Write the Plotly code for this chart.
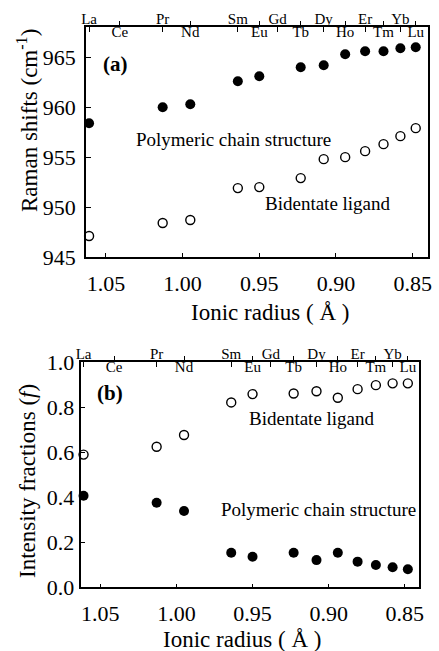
import plotly.graph_objects as go

# ---------------- data ----------------
elements = ["La", "Pr", "Nd", "Sm", "Eu", "Tb", "Dy", "Ho", "Er", "Tm", "Yb", "Lu"]
ionic_radius = [1.061, 1.013, 0.995, 0.964, 0.950, 0.923, 0.908, 0.894, 0.881, 0.869, 0.858, 0.848]

raman_polymeric = [958.4, 960.0, 960.3, 962.6, 963.1, 964.0, 964.2, 965.3, 965.6, 965.6, 965.9, 966.0]
raman_bidentate = [947.1, 948.4, 948.7, 951.9, 952.0, 952.9, 954.8, 955.0, 955.6, 956.3, 957.1, 957.9]

frac_bidentate = [0.59, 0.625, 0.677, 0.822, 0.859, 0.862, 0.872, 0.843, 0.881, 0.899, 0.907, 0.907]
frac_polymeric = [0.407, 0.376, 0.339, 0.154, 0.136, 0.154, 0.121, 0.154, 0.114, 0.099, 0.089, 0.080]

# top element scale (two staggered rows)
upper_labels = ["La", "Pr", "Sm", "Gd", "Dy", "Er", "Yb"]
upper_radius = [1.061, 1.013, 0.964, 0.938, 0.908, 0.881, 0.858]
lower_labels = ["Ce", "Nd", "Eu", "Tb", "Ho", "Tm", "Lu"]
lower_radius = [1.041, 0.995, 0.950, 0.923, 0.894, 0.869, 0.848]

x_ticks = [1.05, 1.00, 0.95, 0.90, 0.85]
x_ticktext = ["1.05", "1.00", "0.95", "0.90", "0.85"]
raman_ticks = [945, 950, 955, 960, 965]
frac_ticks = [0.0, 0.2, 0.4, 0.6, 0.8, 1.0]

W, H = 439, 651
FONT = "Liberation Serif"


def px(x):
    return x / W


def py(y):
    return 1 - y / H


fig = go.Figure()

filled = dict(symbol="circle", size=10, color="black", line=dict(width=0))
opened = dict(symbol="circle", size=9, color="white", line=dict(width=1.4, color="black"))

# panel (a)
fig.add_trace(go.Scatter(x=ionic_radius, y=raman_polymeric, mode="markers", marker=filled,
                         xaxis="x", yaxis="y", cliponaxis=False, showlegend=False))
fig.add_trace(go.Scatter(x=ionic_radius, y=raman_bidentate, mode="markers", marker=opened,
                         xaxis="x", yaxis="y", cliponaxis=False, showlegend=False))
# panel (b)
fig.add_trace(go.Scatter(x=ionic_radius, y=frac_bidentate, mode="markers", marker=opened,
                         xaxis="x2", yaxis="y2", cliponaxis=False, showlegend=False))
fig.add_trace(go.Scatter(x=ionic_radius, y=frac_polymeric, mode="markers", marker=filled,
                         xaxis="x2", yaxis="y2", cliponaxis=False, showlegend=False))

# dummy traces to register the element-scale axes
for xa, ya, vals in [("x3", "y", upper_radius), ("x4", "y", lower_radius),
                     ("x5", "y2", upper_radius), ("x6", "y2", lower_radius)]:
    fig.add_trace(go.Scatter(x=vals, y=[None] * len(vals), mode="markers", xaxis=xa, yaxis=ya,
                             showlegend=False, hoverinfo="skip"))

xr_a = [1.063, 0.840]
xr_b = [1.063, 0.841]
dom_xa = [px(86), px(428)]
dom_xb = [px(80.5), px(418.5)]
dom_ya = [py(257), py(27.3)]
dom_yb = [py(587.3), py(362.3)]

base_x = dict(tickvals=x_ticks, ticktext=x_ticktext, ticks="inside", ticklen=4, tickwidth=1,
              tickcolor="black", showline=True, linecolor="black", linewidth=1.5, mirror=True,
              showgrid=False, zeroline=False, tickfont=dict(family=FONT, size=22, color="black"),
              ticklabelstandoff=6, automargin=False)
base_y = dict(ticks="inside", ticklen=5, tickwidth=1, tickcolor="black", showline=True,
              linecolor="black", linewidth=1.5, mirror=True, showgrid=False, zeroline=False,
              tickfont=dict(family=FONT, size=22, color="black"), automargin=False)

el_font = dict(family=FONT, size=15, color="black")
el_common = dict(tickcolor="black", ticklen=5, tickwidth=1, showline=False, showgrid=False,
                 zeroline=False, tickfont=el_font, automargin=False, side="top")

fig.update_layout(
    width=W, height=H, autosize=False,
    margin=dict(l=0, r=0, t=0, b=0, autoexpand=False),
    paper_bgcolor="white", plot_bgcolor="white",
    xaxis=dict(base_x, domain=dom_xa, range=xr_a, anchor="y"),
    yaxis=dict(base_y, domain=dom_ya, range=[945, 968], tickvals=raman_ticks, anchor="x",
               ticklabelstandoff=4),
    xaxis2=dict(base_x, domain=dom_xb, range=xr_b, anchor="y2"),
    yaxis2=dict(base_y, domain=dom_yb, range=[0, 1.0005], tickvals=frac_ticks, tickformat=".1f",
                anchor="x2", ticklabelstandoff=0),
    xaxis3=dict(el_common, overlaying="x", anchor="y", range=xr_a, tickvals=upper_radius,
                ticktext=upper_labels, ticks="inside", ticklabelstandoff=-1),
    xaxis4=dict(el_common, overlaying="x", anchor="y", range=xr_a, tickvals=lower_radius,
                ticktext=lower_labels, ticks="outside", ticklabelstandoff=-22),
    xaxis5=dict(el_common, overlaying="x2", anchor="y2", range=xr_b, tickvals=upper_radius,
                ticktext=upper_labels, ticks="inside", ticklabelstandoff=-1),
    xaxis6=dict(el_common, overlaying="x2", anchor="y2", range=xr_b, tickvals=lower_radius,
                ticktext=lower_labels, ticks="outside", ticklabelstandoff=-22),
)

ann_font = dict(family=FONT, size=19, color="black")
title_font = dict(family=FONT, size=23, color="black")


def add_text(text, x, y, font, angle=0):
    fig.add_annotation(text=text, x=px(x), y=py(y), xref="paper", yref="paper",
                       showarrow=False, font=font, textangle=angle,
                       xanchor="center", yanchor="middle")


add_text("<b>(a)</b>", 115, 64, dict(family=FONT, size=21, color="black"))
add_text("Polymeric chain structure", 233, 139, ann_font)
add_text("Bidentate ligand", 328, 204, ann_font)
add_text("Raman shifts (cm<sup>-1</sup>)", 27, 121, title_font, -90)
add_text("Ionic radius ( Å )", 270, 313, title_font)

add_text("<b>(b)</b>", 110, 393, dict(family=FONT, size=21, color="black"))
add_text("Bidentate ligand", 312, 419, ann_font)
add_text("Polymeric chain structure", 318, 509, ann_font)
add_text("Intensity fractions (<i>f</i>)", 28, 481, title_font, -90)
add_text("Ionic radius ( Å )", 242, 639, title_font)

fig.write_html("out.html", config={"displayModeBar": False},
               post_script="document.body.style.margin='0px';document.body.style.overflow='hidden';")
